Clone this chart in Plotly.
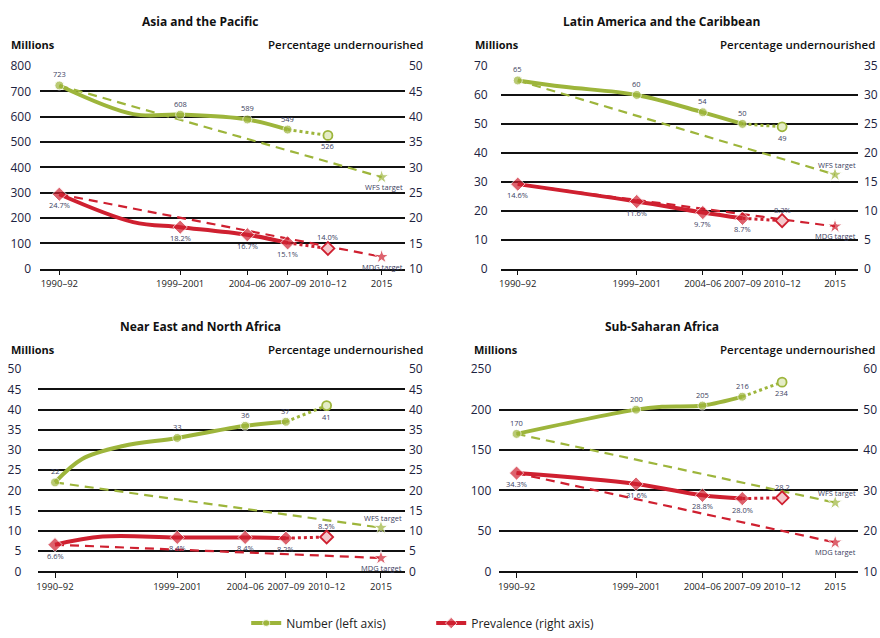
import plotly.graph_objects as go

# Survey periods and the mid-year used to place each one on the time axis
period_labels = ["1990–92", "1999–2001", "2004–06", "2007–09", "2010–12", "2015"]
period_years = [1991, 2000, 2005, 2008, 2011, 2015]

region_names = [
    "Asia and the Pacific",
    "Latin America and the Caribbean",
    "Near East and North Africa",
    "Sub-Saharan Africa",
]

# Number undernourished (millions), 1990-92 .. 2010-12 (last value is provisional)
asia_number = [723, 608, 589, 549, 526]
latam_number = [65, 60, 54, 50, 49]
neaf_number = [22, 33, 36, 37, 41]
ssa_number = [170, 200, 205, 216, 234]

# Prevalence of undernourishment (%), same periods
asia_prev = [24.7, 18.2, 16.7, 15.1, 14.0]
latam_prev = [14.6, 11.6, 9.7, 8.7, 8.3]
neaf_prev = [6.6, 8.4, 8.4, 8.2, 8.5]
ssa_prev = [34.3, 31.6, 28.8, 28.0, 28.2]

# 2015 targets: World Food Summit (number) and MDG (prevalence)
wfs_targets = [361.5, 32.5, 10.8, 85]
mdg_targets = [12.35, 7.3, 3.3, 17.15]

# Intermediate annual estimates that shape the solid curves (year, value)
asia_number_bends = [(1996.5, 610)]
asia_prev_bends = [(1996.5, 19.2)]
latam_number_bends = [(1994.5, 62.8)]
latam_prev_bends = []
neaf_number_bends = [(1993, 27.8), (1996, 31)]
neaf_prev_bends = [(1994.5, 8.6)]
ssa_number_bends = [(2002, 203.5)]
ssa_prev_bends = []

# Suffix printed after each prevalence value
asia_prev_suffix = ["%", "%", "%", "%", "%"]
latam_prev_suffix = ["%", "%", "%", "%", "%"]
neaf_prev_suffix = ["%", "%", "%", "%", "%"]
ssa_prev_suffix = ["%", "%", "%", "%", ""]

GREEN = "#9db53b"
GREEN_LIGHT = "#e4ecc6"
RED = "#cf2030"
RED_LIGHT = "#f4c8cb"
INK = "#1c2240"
LABEL_INK = "#3c4262"
FONT = "Open Sans"
W, H = 880, 638

panels = [
    dict(number=asia_number, prev=asia_prev, nb=asia_number_bends, pb=asia_prev_bends,
         suffix=asia_prev_suffix,
         xdom=(40, 405), ydom=(66.7, 271.7), xr=(1989.56, 2016.74),
         left=(0, 800, 100), right=(10, 50, 5), lstand=8, rstand=3,
         title_x=200, title_y=22, head_y=45, mill_x=9, pct_x=425, wfs_above=False),
    dict(number=latam_number, prev=latam_prev, nb=latam_number_bends, pb=latam_prev_bends,
         suffix=latam_prev_suffix,
         xdom=(500.7, 858), ydom=(66.7, 271.7), xr=(1989.71, 2016.74),
         left=(0, 70, 10), right=(0, 35, 5), lstand=12, rstand=5,
         title_x=661.7, title_y=22, head_y=45, mill_x=473, pct_x=876.7, wfs_above=True),
    dict(number=neaf_number, prev=neaf_prev, nb=neaf_number_bends, pb=neaf_prev_bends,
         suffix=neaf_prev_suffix,
         xdom=(38.3, 405), ydom=(373.3, 577.7), xr=(1989.77, 2016.77),
         left=(0, 50, 5), right=(0, 50, 5), lstand=16, rstand=3,
         title_x=200, title_y=330, head_y=353, mill_x=9, pct_x=425, wfs_above=True),
    dict(number=ssa_number, prev=ssa_prev, nb=ssa_number_bends, pb=ssa_prev_bends,
         suffix=ssa_prev_suffix,
         xdom=(499.3, 858.3), ydom=(373.3, 577.7), xr=(1989.7, 2016.74),
         left=(0, 250, 50), right=(10, 60, 10), lstand=7, rstand=4,
         title_x=661.7, title_y=330, head_y=353, mill_x=471.7, pct_x=876.7, wfs_above=True),
]

fig = go.Figure()
annotations = []
layout_axes = {}


def curve(years, values, bends):
    pts = [(x, v, 9) for x, v in zip(years, values)] + [(x, v, 0) for x, v in bends]
    pts.sort(key=lambda p: p[0])
    return [p[0] for p in pts], [p[1] for p in pts], [p[2] for p in pts]


for i, p in enumerate(panels):
    k = i + 1
    xa, ya, yr = f"x{k}", f"y{k}", f"y{k + 4}"
    obs_years = period_years[:4]
    hist_years = period_years[:5]
    n0, pr0 = p["number"][0], p["prev"][0]

    # 2015 target paths
    fig.add_trace(go.Scatter(
        x=[period_years[0], period_years[5]], y=[n0, wfs_targets[i]],
        mode="lines+markers", xaxis=xa, yaxis=ya, showlegend=False, hoverinfo="skip",
        line=dict(color=GREEN, width=2.2, dash="9px,6px"),
        marker=dict(size=[0, 11], symbol="star", color=GREEN)))
    fig.add_trace(go.Scatter(
        x=[period_years[0], period_years[5]], y=[pr0, mdg_targets[i]],
        mode="lines+markers", xaxis=xa, yaxis=yr, showlegend=False, hoverinfo="skip",
        line=dict(color=RED, width=2.2, dash="9px,6px"),
        marker=dict(size=[0, 11], symbol="star", color=RED)))

    # Number undernourished: observed curve, provisional segment
    cx, cy, cs = curve(obs_years, p["number"][:4], p["nb"])
    fig.add_trace(go.Scatter(
        x=cx, y=cy, mode="lines+markers", xaxis=xa, yaxis=ya,
        name="Number (left axis)", showlegend=(k == 1), legendgroup="num",
        line=dict(color=GREEN, width=4, shape="spline", smoothing=1.0),
        marker=dict(size=cs, symbol="circle", color=GREEN)))
    fig.add_trace(go.Scatter(
        x=hist_years[3:5], y=p["number"][3:5], mode="lines", xaxis=xa, yaxis=ya,
        showlegend=False, line=dict(color=GREEN, width=3, dash="dot")))
    fig.add_trace(go.Scatter(
        x=[hist_years[4]], y=[p["number"][4]], mode="markers", xaxis=xa, yaxis=ya,
        showlegend=False,
        marker=dict(size=9, symbol="circle", color=GREEN_LIGHT,
                    line=dict(color=GREEN, width=1.8))))

    # Prevalence: observed curve, provisional segment
    cx, cy, cs = curve(obs_years, p["prev"][:4], p["pb"])
    fig.add_trace(go.Scatter(
        x=cx, y=cy, mode="lines+markers", xaxis=xa, yaxis=yr,
        name="Prevalence (right axis)", showlegend=(k == 1), legendgroup="prev",
        line=dict(color=RED, width=4, shape="spline", smoothing=1.0),
        marker=dict(size=[s + 2 if s else 0 for s in cs], symbol="diamond", color=RED)))
    fig.add_trace(go.Scatter(
        x=hist_years[3:5], y=p["prev"][3:5], mode="lines", xaxis=xa, yaxis=yr,
        showlegend=False, line=dict(color=RED, width=3, dash="dot")))
    fig.add_trace(go.Scatter(
        x=[hist_years[4]], y=[p["prev"][4]], mode="markers", xaxis=xa, yaxis=yr,
        showlegend=False,
        marker=dict(size=10, symbol="diamond", color=RED_LIGHT,
                    line=dict(color=RED, width=1.8))))

    # Value labels: above the line except for the provisional period
    for j, (x, v) in enumerate(zip(hist_years, p["number"])):
        annotations.append(dict(
            x=x, y=v, xref=xa, yref=ya, text=f"{v:d}", showarrow=False,
            yshift=11 if j < 4 else -11, font=dict(family=FONT, size=7.5, color=LABEL_INK)))
    for j, (x, v) in enumerate(zip(hist_years, p["prev"])):
        annotations.append(dict(
            x=x, y=v, xref=xa, yref=yr, text=f"{v:.1f}{p['suffix'][j]}", showarrow=False,
            yshift=-11 if j < 4 else 11, font=dict(family=FONT, size=7.5, color=LABEL_INK)))
    annotations.append(dict(
        x=period_years[5], y=wfs_targets[i], xref=xa, yref=ya, text="WFS target",
        showarrow=False, xanchor="right", xshift=23, yshift=10 if p["wfs_above"] else -10,
        font=dict(family=FONT, size=7.5, color=LABEL_INK)))
    annotations.append(dict(
        x=period_years[5], y=mdg_targets[i], xref=xa, yref=yr, text="MDG target",
        showarrow=False, xanchor="right", xshift=23, yshift=-10,
        font=dict(family=FONT, size=7.5, color=LABEL_INK)))

    # Panel headings
    annotations.append(dict(
        x=p["title_x"] / W, y=1 - p["title_y"] / H, xref="paper", yref="paper",
        text=f"<b>{region_names[i]}</b>", showarrow=False, xanchor="center", yanchor="middle",
        font=dict(family=FONT, size=12, color="#111111")))
    annotations.append(dict(
        x=p["mill_x"] / W, y=1 - p["head_y"] / H, xref="paper", yref="paper",
        text="<b>Millions</b>", showarrow=False, xanchor="left", yanchor="middle",
        font=dict(family=FONT, size=11, color="#111111")))
    annotations.append(dict(
        x=p["pct_x"] / W, y=1 - p["head_y"] / H, xref="paper", yref="paper",
        text="Percentage undernourished", showarrow=False, xanchor="right", yanchor="middle",
        font=dict(family=FONT, size=11.5, color="#111111", weight=600)))

    xdom = [p["xdom"][0] / W, p["xdom"][1] / W]
    ydom = [1 - p["ydom"][1] / H, 1 - p["ydom"][0] / H]
    lo, hi, step = p["left"]
    rlo, rhi, rstep = p["right"]

    layout_axes[f"xaxis{k}"] = dict(
        domain=xdom, anchor=ya, range=list(p["xr"]), tickmode="array",
        tickvals=period_years, ticktext=period_labels, tickangle=0,
        showgrid=False, zeroline=False,
        showline=True, linecolor="#111111", linewidth=1.5, ticks="outside", ticklen=5,
        tickwidth=1.2, tickcolor="#111111", automargin=False,
        tickfont=dict(family=FONT, size=9.5, color="#222222"))
    layout_axes[f"yaxis{k}"] = dict(
        domain=ydom, anchor=xa, range=[lo, hi], dtick=step, tick0=lo,
        showgrid=True, gridcolor="#111111", gridwidth=1.5, zeroline=False,
        showline=False, ticks="", ticklabelstandoff=p["lstand"], automargin=False,
        tickfont=dict(family=FONT, size=12, color=INK))
    layout_axes[f"yaxis{k + 4}"] = dict(
        overlaying=ya, side="right", anchor=xa, range=[rlo, rhi], dtick=rstep, tick0=rlo,
        showgrid=False, zeroline=False, showline=False, ticks="",
        ticklabelstandoff=p["rstand"], automargin=False,
        tickfont=dict(family=FONT, size=12, color=INK))

fig.update_layout(
    width=W, height=H, margin=dict(l=0, r=0, t=0, b=0),
    paper_bgcolor="white", plot_bgcolor="white",
    font=dict(family=FONT),
    showlegend=True,
    legend=dict(orientation="h", x=0.49, xanchor="center", y=1 - 630 / H, yanchor="middle",
                entrywidth=140, entrywidthmode="pixels", itemwidth=30,
                font=dict(family=FONT, size=12, color="#222222"),
                bgcolor="rgba(0,0,0,0)"),
    annotations=annotations,
    **layout_axes,
)

fig.write_html("out.html")
